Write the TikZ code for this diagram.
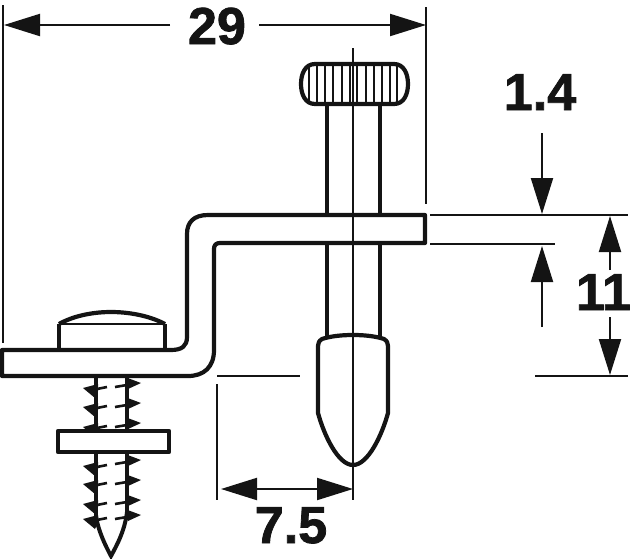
\documentclass[tikz,border=0pt]{standalone}
\usepackage{fontspec}
\setmainfont{Liberation Sans}
\newfontfamily\dimfont{Liberation Sans Bold}[FakeBold=1.5]
\usetikzlibrary{arrows.meta}
\definecolor{ink}{gray}{0.08}
\tikzset{
  part/.style={line width=4.2pt,line join=round,ink},
  ridge/.style={line width=2pt,ink},
  thin/.style={line width=2.1pt,ink},
  dimarrow/.style={line width=2.1pt,ink,-{Triangle[length=36pt,width=22pt]}},
  dimtext/.style={font=\fontsize{52}{52}\selectfont\dimfont,anchor=base,inner sep=0pt,text=ink},
  thread/.style={line width=4pt,ink},
  dashline/.style={line width=2.6pt,ink}
}
\newcommand{\lefttooth}[1]{%
  \fill[ink,yshift=-#1pt] (83,-1) -- (98,-5) -- (98,2) -- (95,9) -- cycle;
  \draw[dashline,yshift=-#1pt] (97,0) -- (107,-2);
}
\newcommand{\righttooth}[1]{%
  \fill[ink,yshift=-#1pt] (141,0) -- (125,-6) -- (128,6) -- cycle;
  \draw[dashline,yshift=-#1pt] (115,4) -- (127,2);
}
\begin{document}
\begin{tikzpicture}[x=1pt,y=-1pt]
\useasboundingbox (0,0) rectangle (633,558);
% knob
\draw[part] (315,64) -- (394,64) .. controls (404,64) and (408,74) .. (408,84)
  .. controls (408,94) and (404,104) .. (394,104) -- (315,104)
  .. controls (305,104) and (301,94) .. (301,84) .. controls (301,74) and (305,64) .. (315,64) -- cycle;
\foreach \x in {309,317,325,333,342,350,357,366,374,382,390,397}
  \draw[ridge] (\x,65) -- (\x,103);
% pin
\draw[part] (327,104) -- (327,215);
\draw[part] (380,104) -- (380,215);
\draw[part] (327,243) -- (327,337);
\draw[part] (380,243) -- (380,337);
% bracket
\draw[part] (2,350) -- (171,350) .. controls (182,350) and (187,346) .. (187,337)
  -- (187,234) .. controls (187,222) and (194,215) .. (208,215) -- (425,215) -- (425,243)
  -- (220,243) .. controls (216,243) and (214,245) .. (214,249) -- (214,350)
  .. controls (214,367) and (204,376) .. (188,376) -- (2,376) -- cycle;
% tip
\draw[part] (353,335) .. controls (338,335) and (328,337) .. (322,339)
  .. controls (319,341) and (318,343) .. (318,346) -- (318,413)
  .. controls (324,435) and (338,465) .. (353,465)
  .. controls (368,465) and (382,435) .. (388,413) -- (388,346)
  .. controls (388,343) and (387,341) .. (384,339)
  .. controls (378,337) and (368,335) .. (353,335) -- cycle;
% centre line
\draw[thin] (353,48) -- (353,500);
% screw head
\draw[part] (59,350) -- (59,324);
\draw[part] (165,350) -- (165,324);
\draw[thin] (59,324) -- (165,324);
\draw[part] (59,324) .. controls (75,315) and (95,312) .. (111,312) .. controls (127,312) and (148,315) .. (165,324);
% shank
\draw[thread] (96,378) -- (96,430);
\draw[thread] (127,378) -- (127,430);
\draw[thread] (96,453) -- (96,516);
\draw[thread] (127,453) -- (127,512);
% teeth
\lefttooth{389}
\lefttooth{408}
\lefttooth{428}
\lefttooth{467}
\lefttooth{485}
\lefttooth{505}
\lefttooth{520}
\righttooth{383}
\righttooth{403}
\righttooth{423}
\righttooth{460}
\righttooth{480}
\righttooth{500}
\righttooth{515}
% screw tip
\draw[thread] (96,516) .. controls (98,530) and (105,545) .. (111,556) .. controls (117,545) and (125,530) .. (127,512);
% washer
\draw[part,fill=white] (58,431) rectangle (169,452);
% dimension 29
\draw[thin] (3,5) -- (3,343);
\draw[thin] (426,7) -- (426,204);
\coordinate (a29) at (170,25);
\coordinate (b29) at (259,25);
\coordinate (c29) at (4,25);
\coordinate (d29) at (426,25);
\draw[dimarrow] (a29) -- (c29);
\draw[dimarrow] (b29) -- (d29);
\node[dimtext] (t29) at (217,44) {29};
% dimension 1.4 and 11
\draw[thin] (430,215) -- (628,215);
\draw[thin] (430,244) -- (555,244);
\draw[thin] (535,376) -- (628,376);
\coordinate (a14) at (542,133);
\coordinate (b14) at (542,214);
\coordinate (c14) at (542,327);
\coordinate (d14) at (542,246);
\draw[dimarrow] (a14) -- (b14);
\draw[dimarrow] (c14) -- (d14);
\node[dimtext] (t14) at (540,110) {1.4};
\coordinate (a11) at (610,270);
\coordinate (b11) at (610,216);
\coordinate (c11) at (610,317);
\coordinate (d11) at (610,375);
\draw[dimarrow] (a11) -- (b11);
\draw[dimarrow] (c11) -- (d11);
\node[dimtext] (t11) at (603.5,310) {11};
% dimension 7.5
\draw[thin] (217,376) -- (300,376);
\draw[thin] (217,384) -- (217,500);
\coordinate (a75) at (290,489);
\coordinate (b75) at (221,489);
\coordinate (c75) at (260,489);
\coordinate (d75) at (353,489);
\draw[dimarrow] (a75) -- (b75);
\draw[dimarrow] (c75) -- (d75);
\node[dimtext] (t75) at (291,543) {7.5};
\end{tikzpicture}
\end{document}
